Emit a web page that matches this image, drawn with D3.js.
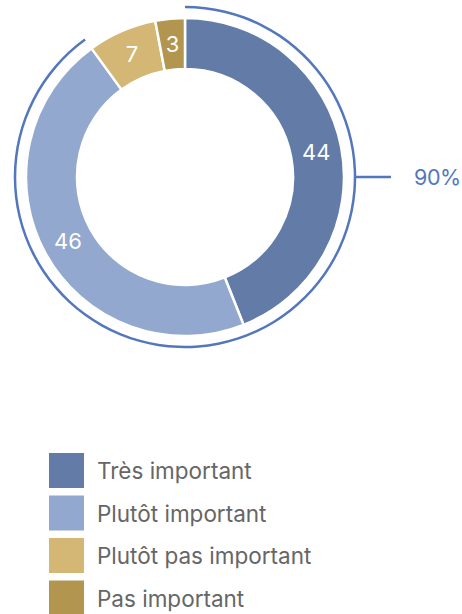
<!DOCTYPE html>
<html>
<head>
<meta charset="utf-8">
<script src="https://cdn.jsdelivr.net/npm/d3@7"></script>
<style>
  html, body { margin: 0; padding: 0; background: #fff; }
  svg { display: block; font-family: Inter, Roboto, "Liberation Sans", sans-serif; }
</style>
</head>
<body>
<svg id="chart" width="462" height="614"></svg>
<script>
// Réponses (%)
const categories = ["Très important", "Plutôt important", "Plutôt pas important", "Pas important"];
const values = [44, 46, 7, 3];
const colors = ["#627ca7", "#92a8cf", "#d4b775", "#b2954e"];
// Part cumulée des réponses « importantes »
const highlightLabel = "90%";
const highlightCount = 2;

const svg = d3.select("#chart");
const cx = 185, cy = 177;
const outerR = 159, innerR = 108, ringR = 170;
const accent = "#5377bd";

const pie = d3.pie().sort(null).value(d => d.value);
const arcs = pie(categories.map((c, i) => ({ name: c, value: values[i], color: colors[i] })));
const arc = d3.arc().innerRadius(innerR).outerRadius(outerR);

const g = svg.append("g").attr("transform", `translate(${cx},${cy})`);

g.selectAll("path.slice")
  .data(arcs)
  .join("path")
  .attr("class", "slice")
  .attr("d", arc)
  .attr("fill", d => d.data.color)
  .attr("stroke", "#fff")
  .attr("stroke-width", 2.5);

g.selectAll("text.val")
  .data(arcs)
  .join("text")
  .attr("class", "val")
  .attr("transform", d => `translate(${arc.centroid(d)})`)
  .attr("text-anchor", "middle")
  .attr("dy", "0.36em")
  .attr("fill", "#fff")
  .attr("font-size", 22)
  .text(d => d.data.value);

// Arc extérieur englobant les deux premières catégories
const total = d3.sum(values);
const highSum = d3.sum(values.slice(0, highlightCount));
const angle = d3.scaleLinear().domain([0, total]).range([0, 2 * Math.PI]);
const ring = d3.arc().innerRadius(ringR - 1.25).outerRadius(ringR + 1.25)
  .startAngle(angle(0)).endAngle(angle(highSum));
g.append("path").attr("d", ring()).attr("fill", accent);

// Repère horizontal à droite et libellé
const x0 = ringR + 1, y0 = 0;
g.append("line")
  .attr("x1", x0).attr("y1", y0)
  .attr("x2", x0 + 35).attr("y2", y0)
  .attr("stroke", accent).attr("stroke-width", 2.5);
g.append("text")
  .attr("x", x0 + 58).attr("y", y0)
  .attr("dy", "0.36em")
  .attr("fill", accent)
  .attr("font-size", 21.5)
  .attr("letter-spacing", -0.4)
  .text(highlightLabel);

// Légende
const legend = svg.append("g").attr("transform", "translate(49,453)");
const step = 42.5;
const items = legend.selectAll("g")
  .data(categories)
  .join("g")
  .attr("transform", (d, i) => `translate(0,${i * step})`);
items.append("rect")
  .attr("width", 35).attr("height", 35)
  .attr("fill", (d, i) => colors[i]);
items.append("text")
  .attr("x", 48).attr("y", 18)
  .attr("dy", "0.36em")
  .attr("fill", "#666")
  .attr("font-size", 22.5)
  .text(d => d);
</script>
</body>
</html>
